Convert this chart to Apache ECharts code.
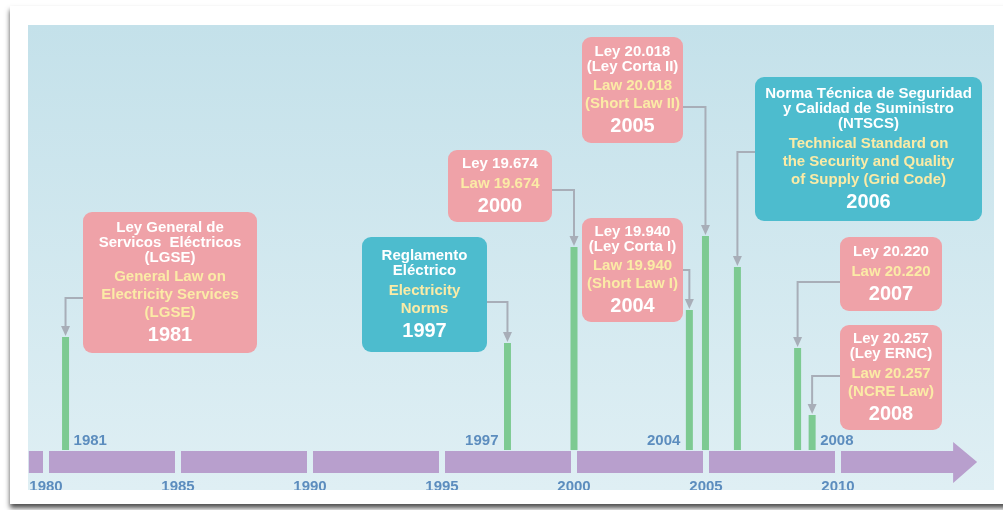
<!DOCTYPE html>
<html>
<head>
<meta charset="utf-8">
<script src="https://cdn.jsdelivr.net/npm/echarts@6/dist/echarts.min.js"></script>
<style>
  html, body { margin: 0; padding: 0; background: #fff; }
  #timeline { width: 1003px; height: 510px; }
</style>
</head>
<body>
<div id="timeline"></div>
<script>
// events on the timeline (years of each law)
const eventYears = ['1981', '1997', '2000', '2004', '2005', '2006', '2007', '2008'];
// where each green bar stands on the year axis, and how tall it is
const barPos = [1980.74, 1997.48, 2000.0, 2004.37, 2004.98, 2006.19, 2008.47, 2009.02];
const barHeight = [22.6, 21.4, 40.6, 28, 42.8, 36.6, 20.4, 7];
// small year tags sitting on the axis ('' = none)
const axisTags = ['1981', '1997', '', '2004', '', '', '', '2008'];
const spanish = [
    ['Ley General de', 'Servicos  Eléctricos', '(LGSE)'],
    ['Reglamento', 'Eléctrico'],
    ['Ley 19.674'],
    ['Ley 19.940', '(Ley Corta I)'],
    ['Ley 20.018', '(Ley Corta II)'],
    ['Norma Técnica de Seguridad', 'y Calidad de Suministro', '(NTSCS)'],
    ['Ley 20.220'],
    ['Ley 20.257', '(Ley ERNC)']
];
const english = [
    ['General Law on', 'Electricity Services', '(LGSE)'],
    ['Electricity', 'Norms'],
    ['Law 19.674'],
    ['Law 19.940', '(Short Law I)'],
    ['Law 20.018', '(Short Law II)'],
    ['Technical Standard on', 'the Security and Quality', 'of Supply (Grid Code)'],
    ['Law 20.220'],
    ['Law 20.257', '(NCRE Law)']
];
// purple axis band pieces (year ranges), last one is the arrow
const bandPieces = [[1979.35, 1980], [1980, 1985], [1985, 1990], [1990, 1995], [1995, 2000], [2000, 2005], [2005, 2010], [2010, 2015.27]];

// box layout in pixels: x, y, w, h, connector side, connector y, colour
const PINK = '#EFA2A8', TEAL = '#4DBCCE';
const boxLayout = [
    [83, 212, 174, 141, 'left', 298, PINK],
    [362, 237, 125, 115, 'right', 302, TEAL],
    [448, 150, 104, 72, 'right', 190, PINK],
    [582, 218, 101, 104, 'right', 270, PINK],
    [582, 37, 101, 106, 'right', 107, PINK],
    [755, 77, 227, 144, 'left', 152, TEAL],
    [840, 237, 102, 74, 'left', 282, PINK],
    [840, 325, 102, 105, 'left', 376, PINK]
];
// tag side: +1 right of bar, -1 left of bar
const tagSide = [1, -1, 0, -1, 0, 0, 0, 1];

const FONT = 'Liberation Sans, Arial, sans-serif';
const LINE = '#A8AEB8';

function boxText(i) {
    let s = spanish[i].map(t => '{w|' + t + '}').join('\n');
    s += '\n{g| }\n' + english[i].map(t => '{y|' + t + '}').join('\n');
    s += '\n{yr|' + eventYears[i] + '}';
    return s;
}

const rich = {
    w: { fill: '#ffffff', fontSize: 15, fontWeight: 'bold', fontFamily: FONT, lineHeight: 15 },
    y: { fill: '#FBEBA6', fontSize: 15, fontWeight: 'bold', fontFamily: FONT, lineHeight: 18 },
    g: { fontSize: 2, lineHeight: 3 },
    yr: { fill: '#ffffff', fontSize: 20, fontWeight: 'bold', fontFamily: FONT, lineHeight: 27 }
};

var chart = echarts.init(document.getElementById('timeline'));

chart.setOption({
    animation: false,
    graphic: [
        {
            type: 'rect', z: -10,
            shape: { x: 10, y: 6, width: 1000, height: 498 },
            style: { fill: '#ffffff', shadowBlur: 5, shadowOffsetY: 4, shadowColor: 'rgba(0,0,0,0.7)' }
        },
        {
            type: 'rect', z: -9,
            shape: { x: 28, y: 25, width: 966, height: 465 },
            style: {
                fill: new echarts.graphic.LinearGradient(0, 0, 0, 1, [
                    { offset: 0, color: '#C4E1EA' },
                    { offset: 1, color: '#DFEFF4' }
                ])
            }
        },
        {
            type: 'rect', z: 100,
            shape: { x: 28, y: 490, width: 966, height: 13 },
            style: { fill: '#ffffff' }
        }
    ],
    grid: { left: 46, right: 165, top: 25, bottom: 60 },
    xAxis: {
        type: 'value', min: 1980, max: 2010, interval: 5,
        axisLine: { show: false }, axisTick: { show: false }, splitLine: { show: false },
        axisLabel: {
            color: '#5C8DBE', fontSize: 15, fontWeight: 'bold', fontFamily: FONT, margin: 29,
            formatter: v => String(v)
        }
    },
    yAxis: { type: 'value', min: 0, max: 85, show: false },
    series: [
        {
            // purple axis band with arrow
            type: 'custom',
            clip: false,
            z: 3,
            data: bandPieces,
            renderItem: function (params, api) {
                var a = api.coord([api.value(0), 0]);
                var b = api.coord([api.value(1), 0]);
                var y0 = a[1];
                var fill = '#B89FCD';
                if (params.dataIndex === bandPieces.length - 1) {
                    var x1 = a[0] + 3, tip = b[0], hs = tip - 24;
                    return {
                        type: 'polygon',
                        shape: { points: [[x1, y0 + 1], [hs, y0 + 1], [hs, y0 - 8], [tip, y0 + 12],
                            [hs, y0 + 33], [hs, y0 + 23], [x1, y0 + 23]] },
                        style: { fill: fill }
                    };
                }
                var s = params.dataIndex === 0 ? a[0] : a[0] + 3;
                return {
                    type: 'rect',
                    shape: { x: s, y: y0 + 1, width: b[0] - 3 - s, height: 22 },
                    style: { fill: fill }
                };
            }
        },
        {
            type: 'bar',
            barWidth: 7,
            itemStyle: { color: '#7DCA92' },
            data: barPos.map((x, i) => [x, barHeight[i]])
        },
        {
            // boxes, connectors and axis tags
            type: 'custom',
            clip: false,
            z: 4,
            data: barPos.map((x, i) => [x, barHeight[i]]),
            renderItem: function (params, api) {
                var i = params.dataIndex;
                var top = api.coord([api.value(0), api.value(1)]);
                var base = api.coord([api.value(0), 0]);
                var L = boxLayout[i];
                var edge = L[4] === 'left' ? L[0] : L[0] + L[2];
                var cx = top[0];
                var kids = [
                    {
                        type: 'polyline',
                        shape: { points: [[edge, L[5]], [cx, L[5]], [cx, top[1] - 9]] },
                        style: { stroke: LINE, lineWidth: 2, fill: null }
                    },
                    {
                        type: 'polygon',
                        shape: { points: [[cx - 4.5, top[1] - 11], [cx + 4.5, top[1] - 11], [cx, top[1] - 1]] },
                        style: { fill: LINE }
                    },
                    {
                        type: 'rect',
                        shape: { x: L[0], y: L[1], width: L[2], height: L[3], r: 9 },
                        style: { fill: L[6] }
                    },
                    {
                        type: 'text',
                        style: {
                            x: L[0] + L[2] / 2, y: L[1] + L[3] / 2 + 2,
                            text: boxText(i), rich: rich,
                            align: 'center', verticalAlign: 'middle'
                        }
                    }
                ];
                if (axisTags[i]) {
                    var side = tagSide[i];
                    kids.push({
                        type: 'text',
                        style: {
                            x: side > 0 ? cx + 8 : cx - 9, y: base[1] - 9,
                            text: axisTags[i],
                            fill: '#5C8DBE', font: 'bold 15px ' + FONT,
                            align: side > 0 ? 'left' : 'right', verticalAlign: 'middle'
                        }
                    });
                }
                return { type: 'group', children: kids };
            }
        }
    ]
});
</script>
</body>
</html>
